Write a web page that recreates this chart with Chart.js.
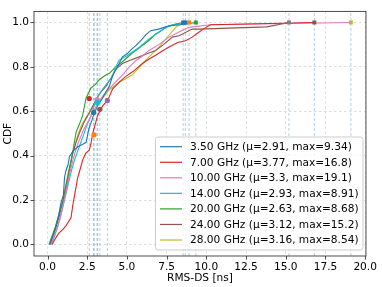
<!DOCTYPE html>
<html><head><meta charset="utf-8">
<script src="https://cdn.jsdelivr.net/npm/chart.js@4"></script>
<style>html,body{margin:0;padding:0;background:#fff}</style>
</head><body><canvas id="c" width="382" height="287"></canvas>
<script>
const bands = ["3.50 GHz","7.00 GHz","10.00 GHz","14.00 GHz","20.00 GHz","24.00 GHz","28.00 GHz"];
const meanLabels = ["2.91","3.77","3.3","2.93","2.63","3.12","3.16"];
const maxLabels = ["9.34","16.8","19.1","8.91","8.68","15.2","8.54"];
const means = [2.91,3.77,3.3,2.93,2.63,3.12,3.16];
const maxes = [9.34,16.8,19.1,8.91,8.68,15.2,8.54];
const lineColors = ['#1f77b4','#d62728','#e377c2','#17becf','#2ca02c','#8c564b','#bcbd22'];

const cdf35 = [[0.15,0],[0.3,0.03],[0.5,0.07],[0.7,0.13],[0.85,0.19],[1.0,0.22],[1.07,0.30],[1.15,0.33],[1.3,0.36],[1.38,0.395],[1.6,0.42],[1.9,0.44],[2.2,0.45],[2.43,0.46],[2.6,0.52],[2.8,0.56],[2.95,0.594],[3.2,0.63],[3.47,0.66],[3.7,0.69],[3.89,0.712],[4.1,0.76],[4.41,0.80],[4.72,0.845],[5.03,0.86],[5.3,0.88],[5.56,0.896],[5.9,0.92],[6.2,0.945],[6.5,0.963],[7.0,0.97],[7.65,0.985],[8.4,0.99],[9.34,1.0]];
const cdf70 = [[0.3,0],[0.44,0.02],[0.7,0.05],[1.0,0.07],[1.17,0.085],[1.3,0.1],[1.48,0.12],[1.6,0.18],[1.75,0.24],[1.9,0.3],[2.1,0.35],[2.21,0.38],[2.4,0.41],[2.63,0.425],[2.75,0.46],[2.84,0.498],[3.0,0.54],[3.15,0.58],[3.47,0.624],[3.8,0.65],[4.09,0.70],[4.5,0.73],[4.93,0.757],[5.4,0.78],[5.97,0.815],[6.4,0.835],[6.81,0.852],[7.2,0.87],[7.65,0.889],[8.2,0.91],[8.69,0.918],[9.11,0.934],[9.53,0.956],[9.8,0.97],[10.26,0.99],[14.0,0.995],[16.8,1.0]];
const cdf100 = [[0.2,0],[0.4,0.03],[0.6,0.07],[0.8,0.12],[1.0,0.18],[1.2,0.25],[1.4,0.32],[1.6,0.38],[1.8,0.43],[2.0,0.47],[2.3,0.52],[2.6,0.56],[2.9,0.6],[3.12,0.63],[3.4,0.66],[3.7,0.69],[4.0,0.71],[4.4,0.74],[4.8,0.77],[5.14,0.80],[5.6,0.83],[6.0,0.85],[6.39,0.874],[7.0,0.90],[7.65,0.934],[8.28,0.957],[8.9,0.978],[10.26,0.99],[15.2,0.995],[19.1,1.0]];
const cdf140 = [[0.25,0],[0.4,0.03],[0.6,0.07],[0.8,0.12],[1.07,0.2],[1.3,0.27],[1.5,0.33],[1.7,0.38],[1.85,0.41],[2.0,0.44],[2.2,0.48],[2.5,0.54],[2.74,0.58],[3.05,0.653],[3.2,0.67],[3.47,0.70],[3.8,0.73],[4.09,0.757],[4.3,0.8],[4.51,0.83],[5.0,0.85],[5.35,0.867],[5.8,0.89],[6.39,0.926],[6.9,0.95],[7.44,0.978],[8.0,0.99],[8.91,1.0]];
const cdf200 = [[0.1,0],[0.3,0.04],[0.5,0.08],[0.7,0.13],[0.85,0.17],[1.0,0.19],[1.2,0.26],[1.4,0.34],[1.59,0.417],[1.8,0.506],[2.0,0.54],[2.21,0.58],[2.43,0.66],[2.74,0.705],[3.0,0.72],[3.26,0.742],[3.6,0.76],[3.89,0.771],[4.3,0.80],[4.72,0.823],[5.3,0.86],[5.97,0.896],[6.4,0.92],[6.81,0.948],[7.2,0.965],[7.65,0.985],[8.2,0.995],[8.68,1.0]];
const cdf240 = [[0.15,0],[0.35,0.04],[0.55,0.08],[0.75,0.13],[0.95,0.19],[1.15,0.26],[1.35,0.33],[1.55,0.4],[1.75,0.45],[2.0,0.5],[2.3,0.55],[2.6,0.59],[2.9,0.63],[3.2,0.67],[3.4,0.69],[3.68,0.712],[4.0,0.75],[4.3,0.79],[4.72,0.815],[5.2,0.83],[5.77,0.845],[6.3,0.86],[6.81,0.874],[7.3,0.90],[7.86,0.934],[8.28,0.94],[9.11,0.97],[9.53,0.97],[13.8,0.98],[15.2,1.0]];
const cdf280 = [[0.1,0],[0.3,0.04],[0.5,0.08],[0.7,0.13],[0.9,0.19],[1.1,0.25],[1.3,0.32],[1.5,0.38],[1.7,0.44],[1.9,0.49],[2.1,0.53],[2.4,0.57],[2.7,0.6],[3.0,0.63],[3.3,0.65],[3.6,0.67],[3.89,0.697],[4.5,0.73],[5.0,0.75],[5.35,0.764],[5.8,0.8],[6.19,0.83],[6.6,0.86],[7.02,0.889],[7.5,0.93],[8.07,0.978],[8.54,1.0]];
const curves = [cdf35,cdf70,cdf100,cdf140,cdf200,cdf240,cdf280];

const meanDotX = [2.63,2.91,2.93,3.12,3.16,3.3,3.77];
const meanDotY = [0.657,0.594,0.494,0.653,0.64,0.609,0.649];
const meanDotColors = ['#d62728','#1f77b4','#ff7f0e','#e377c2','#17becf','#8c564b','#9467bd'];
const maxMarkX = [8.54,8.68,8.91,9.34,15.2,16.8,19.1];
const maxMarkColors = ['#1f77b4','#1f77b4','#ff7f0e','#2ca02c','#7f7f7f','#8c564b','#bcbd22'];

const xTicks = [0,2.5,5,7.5,10,12.5,15,17.5,20];
const yTicks = [0,0.2,0.4,0.6,0.8,1.0];
const X_MIN=-0.85, X_MAX=20.05, Y_MIN=-0.052, Y_MAX=1.05;

const FONT = "DejaVu Sans";
const FS = 10.6;
const datasets = [];
curves.forEach((c,i)=>{
  datasets.push({type:'scatter',showLine:true,data:c.map(p=>({x:p[0],y:p[1]})),borderColor:lineColors[i],borderWidth:1.1,pointRadius:0,tension:0,order:2});
});
[...means,...maxes].forEach(v=>{
  datasets.push({type:'scatter',showLine:true,data:[{x:v,y:Y_MIN},{x:v,y:Y_MAX}],borderColor:'rgba(31,119,180,0.35)',borderWidth:1,borderDash:[3,2],pointRadius:0,order:3});
});
datasets.push({type:'scatter',data:meanDotX.map((x,i)=>({x,y:meanDotY[i]})),pointBackgroundColor:meanDotColors,pointBorderWidth:0,pointRadius:2.6,pointStyle:'circle',order:1});
datasets.push({type:'scatter',data:maxMarkX.map(x=>({x,y:1.0})),pointBackgroundColor:maxMarkColors,pointBorderWidth:0,pointRadius:2.8,pointStyle:'rect',order:1});

const decor = {
  id:'decor',
  afterDraw(chart){
    const {ctx,chartArea:a,scales} = chart;
    ctx.save();
    ctx.strokeStyle='#222';ctx.lineWidth=0.8;
    ctx.strokeRect(a.left,a.top,a.right-a.left,a.bottom-a.top);
    ctx.beginPath();
    xTicks.forEach(v=>{const p=Math.round(scales.x.getPixelForValue(v))+0.5;ctx.moveTo(p,a.bottom);ctx.lineTo(p,a.bottom+3.5);});
    yTicks.forEach(v=>{const p=Math.round(scales.y.getPixelForValue(v))+0.5;ctx.moveTo(a.left,p);ctx.lineTo(a.left-3.5,p);});
    ctx.stroke();
    ctx.fillStyle='#000';ctx.font=FS+'px '+FONT;ctx.textAlign='center';ctx.textBaseline='middle';
    ctx.fillText('RMS-DS [ns]',(a.left+a.right)/2,278);
    ctx.save();ctx.translate(8,(a.top+a.bottom)/2);ctx.rotate(-Math.PI/2);ctx.fillText('CDF',0,0);ctx.restore();
    // legend
    const lx=155.5, ly=137, lw=207.5, lh=113;
    ctx.fillStyle='rgba(255,255,255,0.8)';ctx.strokeStyle='#cccccc';ctx.lineWidth=1;
    ctx.beginPath();ctx.roundRect(lx,ly,lw,lh,2.5);ctx.fill();ctx.stroke();
    ctx.textAlign='left';ctx.font=FS+'px '+FONT;
    bands.forEach((b,i)=>{
      const y=146.7+i*15.55;
      ctx.strokeStyle=lineColors[i];ctx.lineWidth=1.2;
      ctx.beginPath();ctx.moveTo(160,y);ctx.lineTo(182,y);ctx.stroke();
      ctx.fillStyle='#000';
      ctx.fillText(b+' (\u03bc='+meanLabels[i]+', max='+maxLabels[i]+')',190,y+0.5);
    });
    ctx.restore();
  }
};

new Chart(document.getElementById('c'),{
  data:{datasets},
  options:{
    responsive:false,animation:false,devicePixelRatio:1,
    layout:{padding:{top:7,right:14.3,left:0,bottom:0}},
    plugins:{legend:{display:false},tooltip:{enabled:false}},
    scales:{
      x:{type:'linear',min:X_MIN,max:X_MAX,
        afterBuildTicks:s=>{s.ticks=xTicks.map(v=>({value:v}));},
        afterFit:s=>{s.height=31;},
        ticks:{callback:v=>Number(v).toFixed(1),font:{family:FONT,size:FS},color:'#000',padding:5,autoSkip:false,maxRotation:0},
        grid:{color:'rgba(176,176,176,0.55)',lineWidth:0.8,drawTicks:false},
        border:{display:false,dash:[2.5,2.5]}},
      y:{type:'linear',min:Y_MIN,max:Y_MAX,
        afterBuildTicks:s=>{s.ticks=yTicks.map(v=>({value:v}));},
        afterFit:s=>{s.width=34;},
        ticks:{callback:v=>Number(v).toFixed(1),font:{family:FONT,size:FS},color:'#000',padding:5,autoSkip:false},
        grid:{color:'rgba(176,176,176,0.55)',lineWidth:0.8,drawTicks:false},
        border:{display:false,dash:[2.5,2.5]}}
    }
  },
  plugins:[decor]
});
</script></body></html>
